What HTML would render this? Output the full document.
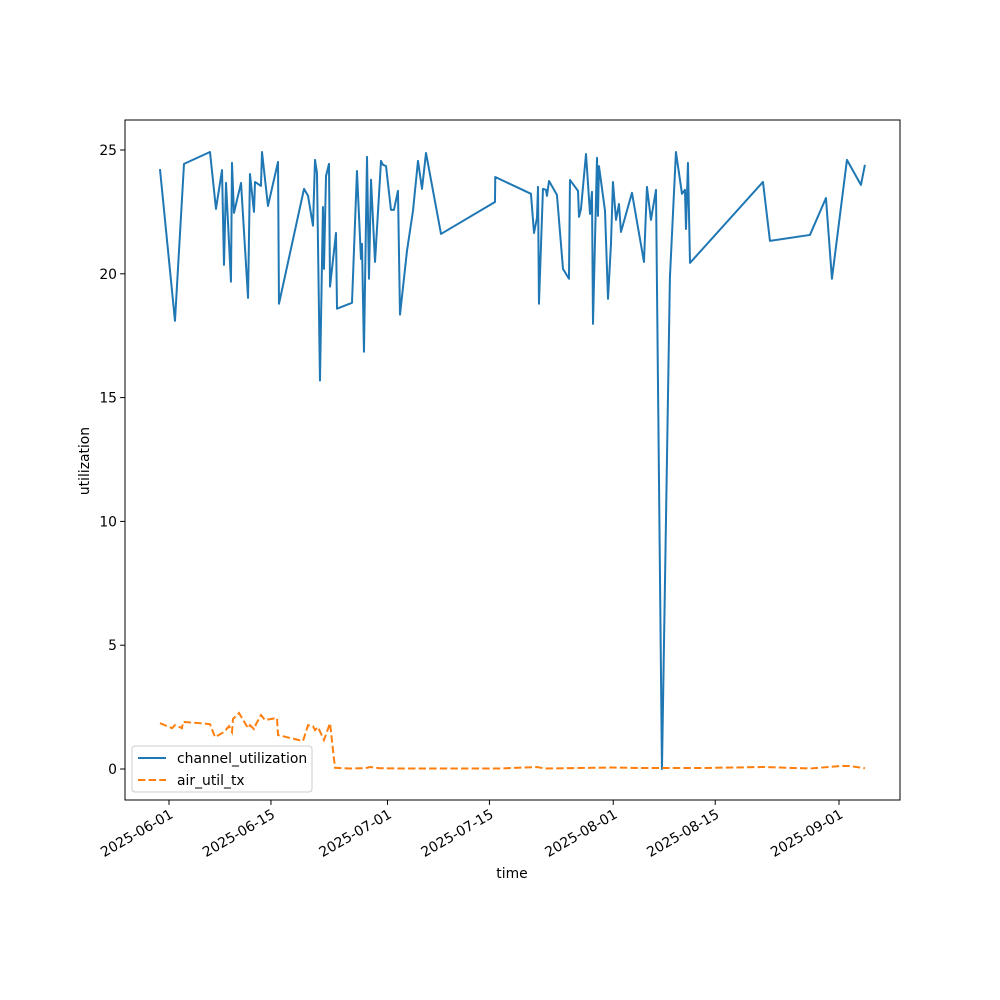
<!DOCTYPE html>
<html><head><meta charset="utf-8"><style>
html,body{margin:0;padding:0;background:#fff;}
svg{display:block;font-family:"DejaVu Sans","Liberation Sans",sans-serif;}
</style></head><body>
<svg id="chart" width="1000" height="1000" viewBox="0 0 1000 1000" xmlns="http://www.w3.org/2000/svg">
<rect width="1000" height="1000" fill="#fff"/>
<g id="plot"></g>
</svg>
<script>
// time as days since 2025-06-01
const chanDays = [-1.24,0.82,2.06,5.63,6.45,7.28,7.55,7.83,8.51,8.65,8.92,9.89,10.85,11.12,11.67,11.81,12.63,12.77,13.59,14.97,15.10,18.54,19.09,19.77,20.05,20.32,20.73,21.14,21.28,21.56,21.97,22.11,22.93,23.07,25.13,25.81,26.36,26.50,26.77,27.19,27.46,27.74,28.29,29.11,29.38,29.80,30.48,30.89,31.44,31.72,32.68,33.50,34.19,34.74,35.29,37.35,44.76,44.80,49.70,50.12,50.53,50.67,50.80,51.35,51.76,51.90,52.18,53.27,54.10,54.92,55.06,56.16,56.30,56.57,57.26,57.81,58.08,58.22,58.77,58.90,59.04,59.87,60.28,60.69,60.96,61.38,61.79,62.06,63.57,65.22,65.63,66.18,66.87,67.69,68.78,69.61,70.44,70.85,70.99,71.26,71.54,81.56,82.52,88.01,90.21,91.03,93.09,95.01,95.56];
const chanVals = [24.23,18.10,24.44,24.92,22.62,24.19,20.36,23.67,19.68,24.48,22.46,23.67,19.03,24.03,22.50,23.71,23.55,24.92,22.74,24.52,18.79,23.43,23.15,21.94,24.60,24.07,15.69,22.70,20.20,23.95,24.44,19.48,21.65,18.59,18.83,24.15,20.60,21.21,16.85,24.72,19.80,23.80,20.48,24.56,24.40,24.35,22.58,22.58,23.35,18.35,20.93,22.54,24.56,23.43,24.88,21.61,22.90,23.91,23.23,21.65,22.26,23.51,18.79,23.43,23.39,23.15,23.75,23.19,20.20,19.80,23.79,23.35,22.30,22.62,24.84,22.42,23.31,17.98,24.68,22.34,24.35,22.54,18.99,21.21,23.71,22.18,22.82,21.69,23.27,20.48,23.51,22.18,23.39,0,19.84,24.92,23.23,23.39,21.81,24.48,20.44,23.71,21.33,21.57,23.06,19.80,24.60,23.59,24.40];
const airDays = [-1.24,0.41,0.82,1.78,1.92,4.26,5.63,6.32,7.28,7.55,8.24,8.65,8.79,9.61,10.85,11.12,11.67,11.95,12.63,13.18,14.83,14.97,18.40,19.09,19.77,20.05,20.46,21.28,22.11,22.79,24.85,26.91,27.6,28.97,31.72,45.4,50.53,51.6,60.83,64.67,72.9,81.8,88.0,92.1,93.5,95.56];
const airVals = [1.85,1.65,1.77,1.65,1.90,1.85,1.81,1.29,1.45,1.49,1.73,1.49,2.02,2.26,1.65,1.77,1.61,1.81,2.18,1.98,2.06,1.37,1.13,1.77,1.73,1.57,1.69,1.17,1.85,0.05,0.02,0.03,0.08,0.03,0.02,0.02,0.08,0.02,0.06,0.04,0.04,0.08,0.02,0.12,0.12,0.03];
const yTicks = [0,5,10,15,20,25];
const xTickDays = [0,14,30,44,61,75,92];
const xTickLabels = ["2025-06-01","2025-06-15","2025-07-01","2025-07-15","2025-08-01","2025-08-15","2025-09-01"];

const L=125,R=900,T=120,B=800;
const FS=13.9;
const pxPerDay=(839-169)/92;
function xs(d){return 169+d*pxPerDay;}
function ys(v){return 769-v*(769-150)/25;}
const NS="http://www.w3.org/2000/svg";
const g=document.getElementById('plot');
function mk(tag,attrs,parent){const e=document.createElementNS(NS,tag);for(const k in attrs)e.setAttribute(k,attrs[k]);(parent||g).appendChild(e);return e;}

let d1=chanDays.map((d,i)=>(i?'L':'M')+xs(d).toFixed(2)+','+ys(chanVals[i]).toFixed(2)).join(' ');
const p1=mk('path',{d:d1,fill:'none',stroke:'#1f77b4','stroke-width':2,'stroke-linejoin':'round'});


let d2=airDays.map((d,i)=>(i?'L':'M')+xs(d).toFixed(2)+','+ys(airVals[i]).toFixed(2)).join(' ');
const p2=mk('path',{d:d2,fill:'none',stroke:'#ff7f0e','stroke-width':2,'stroke-dasharray':'7.4,3.2'});



const fr=mk('rect',{x:L,y:T,width:R-L,height:B-T,fill:'none',stroke:'#000','stroke-width':1});



yTicks.forEach(v=>{
  const y=ys(v);
  const t=mk('line',{x1:L-4.9,x2:L,y1:y,y2:y,stroke:'#000','stroke-width':1});
  
  
  const tx=mk('text',{x:L-8,y:y+5,'text-anchor':'end','font-size':FS,fill:'#000'});
  tx.textContent=v;
  
  
});
xTickDays.forEach((d,i)=>{
  const x=xs(d);
  const t=mk('line',{x1:x,x2:x,y1:B,y2:B+4.9,stroke:'#000','stroke-width':1});
  
  
  const tx=mk('text',{transform:`translate(${x+5},${B+17}) rotate(-30)`,'text-anchor':'end','font-size':FS,fill:'#000'});
  tx.textContent=xTickLabels[i];
  
  
});
const xl=mk('text',{x:512,y:878,'text-anchor':'middle','font-size':FS});
xl.textContent='time';


const yl=mk('text',{transform:'translate(89,461) rotate(-90)','text-anchor':'middle','font-size':FS});
yl.textContent='utilization';



const lg=mk('g',{});


mk('rect',{x:132,y:746,width:180,height:46,rx:3,fill:'#fff','fill-opacity':0.8,stroke:'#ccc','stroke-width':1},lg);
const e1=mk('g',{},lg);


mk('line',{x1:138,x2:166,y1:758,y2:758,stroke:'#1f77b4','stroke-width':2},e1);
const t1=mk('text',{x:177,y:763,'font-size':FS},e1);t1.textContent='channel_utilization';
const e2=mk('g',{},lg);


mk('line',{x1:138,x2:166,y1:780,y2:780,stroke:'#ff7f0e','stroke-width':2,'stroke-dasharray':'7.4,3.2'},e2);
const t2=mk('text',{x:177,y:785,'font-size':FS},e2);t2.textContent='air_util_tx';
</script>
</body></html>
